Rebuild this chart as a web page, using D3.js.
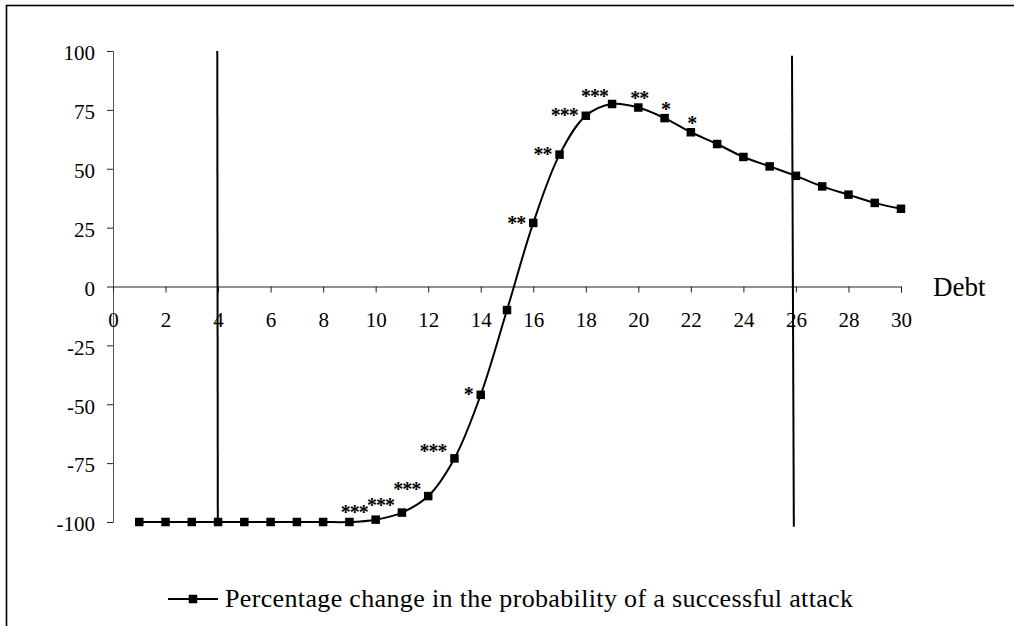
<!DOCTYPE html>
<html>
<head>
<meta charset="utf-8">
<script src="https://cdn.jsdelivr.net/npm/d3@7"></script>
<style>
  html, body { margin: 0; padding: 0; background: #fff; }
  svg { display: block; }
  text { font-family: "Liberation Serif", "Times New Roman", serif; fill: #000; }
</style>
</head>
<body>
<svg id="chart" width="1014" height="626"></svg>
<script>
// ---- data ----
const debt = [1,2,3,4,5,6,7,8,9,10,11,12,13,14,15,16,17,18,19,20,21,22,23,24,25,26,27,28,29,30];
const pctChange = [-100,-100,-100,-100,-100,-100,-100,-100,-100,-99,-96,-89,-73,-46,-10,27,56,72.5,77.5,76,71.5,65.5,60.5,55,51,47,42.5,39,35.5,33];
const significance = ["","","","","","","","","","***","***","***","***","*","","**","**","***","***","**","*","*","","","","","","","",""];
const xTicks = [0,2,4,6,8,10,12,14,16,18,20,22,24,26,28,30];
const yTicks = [100,75,50,25,0,-25,-50,-75,-100];
const refLinesX1 = [3.97, 25.85];
const refLinesX2 = [3.99, 25.92];
const refLinesTop = [100, 98];
const refLinesBottom = [-100, -102];
const xAxisTitle = "Debt";
const legendLabel = "Percentage change in the probability of a successful attack";

// ---- layout ----
const svg = d3.select("#chart");
const x = d3.scaleLinear().domain([0, 30]).range([113, 901]);
const y = d3.scaleLinear().domain([-100, 100]).range([522, 51]);
const serif = "Liberation Serif, Times New Roman, serif";

// frame
svg.append("rect")
  .attr("x", 6.5).attr("y", 5.5)
  .attr("width", 1100).attr("height", 700)
  .attr("fill", "none").attr("stroke", "#000").attr("stroke-width", 1.6);

// y axis
const yAxis = svg.append("g")
  .attr("transform", `translate(${x(0)},0)`)
  .call(d3.axisLeft(y).tickValues(yTicks).tickSize(6).tickPadding(12).tickFormat(d => String(d)));
yAxis.select(".domain").attr("stroke", "#555").attr("stroke-width", 1);
yAxis.selectAll(".tick line").attr("stroke", "#222");
yAxis.selectAll("text").attr("font-size", 21).attr("font-family", serif).attr("dy", "0.42em");

// x axis
const xAxis = svg.append("g")
  .attr("transform", `translate(0,${y(0)})`)
  .call(d3.axisBottom(x).tickValues(xTicks).tickSize(6).tickPadding(20).tickFormat(d => String(d)));
xAxis.select(".domain").attr("stroke", "#222").attr("stroke-width", 1);
xAxis.selectAll(".tick line").attr("stroke", "#222");
xAxis.selectAll("text").attr("font-size", 21).attr("font-family", serif);

svg.append("text")
  .attr("x", x(30) + 32).attr("y", y(0) + 9)
  .attr("font-size", 27).attr("font-family", serif)
  .text(xAxisTitle);

// reference vertical lines
svg.selectAll(".ref").data(refLinesX1).enter().append("line")
  .attr("class", "ref")
  .attr("x1", (d) => x(d)).attr("x2", (d, i) => x(refLinesX2[i]))
  .attr("y1", (d, i) => y(refLinesTop[i])).attr("y2", (d, i) => y(refLinesBottom[i]))
  .attr("stroke", "#000").attr("stroke-width", 2);

// series line
const pts = debt.map((d, i) => [d, pctChange[i]]);
const line = d3.line().x(d => x(d[0])).y(d => y(d[1])).curve(d3.curveCatmullRom.alpha(0.5));
svg.append("path").datum(pts)
  .attr("d", line).attr("fill", "none").attr("stroke", "#000").attr("stroke-width", 2);

// markers
const ms = 8.5;
svg.selectAll(".mk").data(pts).enter().append("rect")
  .attr("class", "mk")
  .attr("x", d => x(d[0]) - ms / 2).attr("y", d => y(d[1]) - ms / 2)
  .attr("width", ms).attr("height", ms).attr("fill", "#000");

// significance stars (label placement: left of point on the rising part, above on the falling part)
function starPlacement(dx) {
  if (dx <= 13) return { anchor: "end", ox: -8, oy: -10 };
  if (dx <= 18) return { anchor: "end", ox: -8, oy: -3 };
  if (dx === 19) return { anchor: "end", ox: -4, oy: -11 };
  return { anchor: "middle", ox: 1, oy: -12 };
}
const starFont = 20;
svg.selectAll(".sig").data(pts.filter((d, i) => significance[i]))
  .enter().append("text")
  .attr("class", "sig")
  .attr("font-size", starFont).attr("font-family", serif).attr("font-weight", "bold")
  .attr("letter-spacing", "-1px")
  .attr("text-anchor", d => starPlacement(d[0]).anchor)
  .attr("x", d => x(d[0]) + starPlacement(d[0]).ox)
  .attr("y", d => y(d[1]) + starPlacement(d[0]).oy + starFont * 0.48)
  .text(d => significance[debt.indexOf(d[0])]);

// legend
const lgY = 599;
svg.append("line").attr("x1", 168).attr("x2", 218).attr("y1", lgY).attr("y2", lgY)
  .attr("stroke", "#000").attr("stroke-width", 2);
svg.append("rect").attr("x", 193 - ms / 2).attr("y", lgY - ms / 2).attr("width", ms).attr("height", ms).attr("fill", "#000");
svg.append("text").attr("x", 225).attr("y", 607).attr("font-size", 26).attr("font-family", serif)
  .attr("textLength", 628).attr("lengthAdjust", "spacing")
  .text(legendLabel);
</script>
</body>
</html>
